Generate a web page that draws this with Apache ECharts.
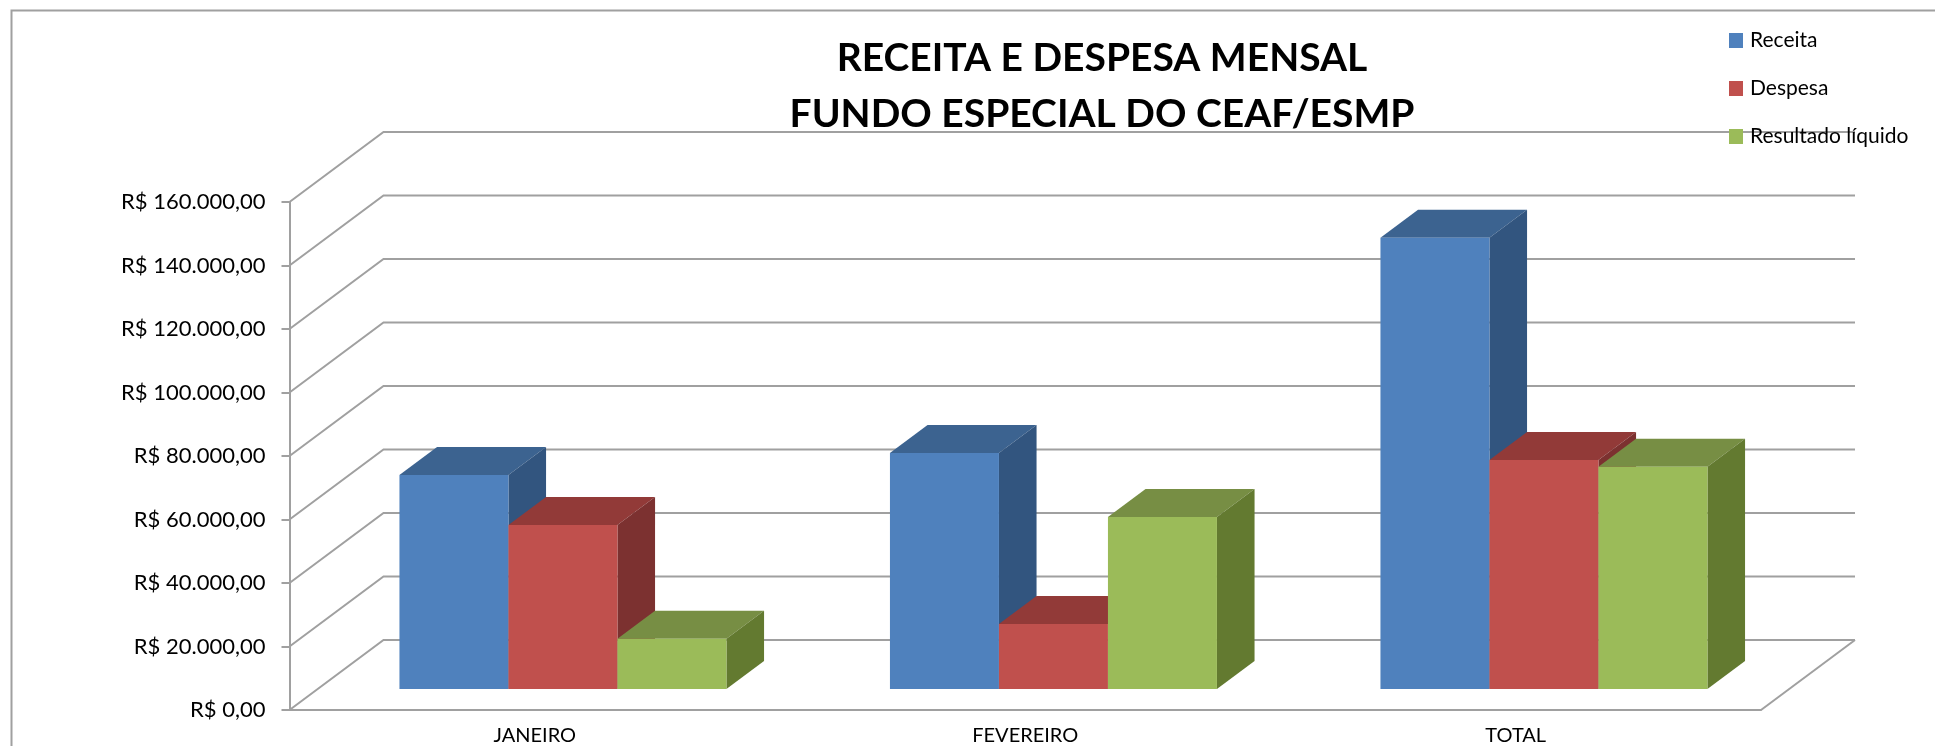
<!DOCTYPE html>
<html>

<head>
    <meta charset="utf-8" />
    <script src="https://cdn.jsdelivr.net/npm/echarts@6/dist/echarts.min.js"></script>
    <style>
        html, body { margin: 0; padding: 0; background: #fff; }
    </style>
</head>

<body>
    <div id="main" style="width: 1935px; height: 746px;"></div>
    <script type="text/javascript">
        var categories = ['JANEIRO', 'FEVEREIRO', 'TOTAL'];
        var receita = [67400, 74300, 142100];
        var despesa = [51650, 20500, 72100];
        var resultado = [15800, 54200, 70000];
        var yTicks = [0, 20000, 40000, 60000, 80000, 100000, 120000, 140000, 160000];
        var yLabels = ['R$ 0,00', 'R$ 20.000,00', 'R$ 40.000,00', 'R$ 60.000,00', 'R$ 80.000,00',
            'R$ 100.000,00', 'R$ 120.000,00', 'R$ 140.000,00', 'R$ 160.000,00'];

        var FONT = 'Lato';
        var GRAY = '#a0a0a0';
        // how far the floor runs back on screen
        var DEPTH_X = 94;
        var DEPTH_Y = 70;

        var myChart = echarts.init(document.getElementById('main'));

        // back wall lines, one per tick
        function renderWall(params, api) {
            var cs = params.coordSys;
            var y = api.coord([0, api.value(1)])[1];
            var left = cs.x;
            var right = cs.x + cs.width;
            var children = [{
                type: 'polyline',
                shape: { points: [[left, y], [left + DEPTH_X, y - DEPTH_Y], [right + DEPTH_X, y - DEPTH_Y]] },
                style: { stroke: GRAY, lineWidth: 2, fill: null }
            }];
            if (api.value(1) === 0) {
                children.push({
                    type: 'line',
                    shape: { x1: right, y1: y, x2: right + DEPTH_X, y2: y - DEPTH_Y },
                    style: { stroke: GRAY, lineWidth: 2 }
                });
            }
            return { type: 'group', children: children };
        }

        // one 3D box, seriesPos says where it sits in the cluster
        function boxRenderer(seriesPos, topColor, sideColor, frontColor) {
            return function (params, api) {
                var band = api.size([1, 0])[0];
                var w = band * 2 / 9;
                var center = api.coord([api.value(0), 0]);
                var top = api.coord([api.value(0), api.value(1)]);
                var fx = DEPTH_X * 0.3, fy = DEPTH_Y * 0.3;
                var bx = DEPTH_X * 0.4, by = DEPTH_Y * 0.4;
                var x0 = center[0] + fx + (seriesPos - 1.5) * w;
                var x1 = x0 + w;
                var yBase = center[1] - fy;
                var yTop = top[1] - fy;
                return {
                    type: 'group',
                    children: [{
                        type: 'polygon',
                        shape: { points: [[x0, yTop], [x1, yTop], [x1 + bx, yTop - by], [x0 + bx, yTop - by]] },
                        style: { fill: topColor }
                    }, {
                        type: 'polygon',
                        shape: { points: [[x1, yTop], [x1 + bx, yTop - by], [x1 + bx, yBase - by], [x1, yBase]] },
                        style: { fill: sideColor }
                    }, {
                        type: 'rect',
                        shape: { x: x0, y: yTop, width: w, height: yBase - yTop },
                        style: { fill: frontColor }
                    }]
                };
            };
        }

        function pairs(values) {
            return values.map(function (v, i) { return [i, v]; });
        }

        var option = {
            animation: false,
            backgroundColor: '#fff',
            title: {
                text: 'RECEITA E DESPESA MENSAL\nFUNDO ESPECIAL DO CEAF/ESMP',
                left: 1097,
                top: 25,
                textAlign: 'center',
                textStyle: { fontFamily: FONT, fontSize: 39, fontWeight: 'bold', color: '#000', lineHeight: 56 }
            },
            legend: {
                orient: 'vertical',
                left: 1724,
                top: 25,
                itemWidth: 14,
                itemHeight: 15,
                itemGap: 27,
                icon: 'rect',
                data: ['Receita', 'Despesa', 'Resultado líquido'],
                textStyle: { fontFamily: FONT, fontSize: 21, color: '#000', padding: [0, 0, 0, 2] }
            },
            grid: { left: 289.5, top: 202, width: 1471.5, height: 508 },
            xAxis: {
                type: 'category',
                data: categories,
                axisLine: { lineStyle: { color: GRAY, width: 2 } },
                axisTick: { length: 7, lineStyle: { color: GRAY, width: 2 } },
                axisLabel: { fontFamily: FONT, fontSize: 20, color: '#000', margin: 16 }
            },
            yAxis: {
                type: 'value',
                min: 0,
                max: 160000,
                interval: 20000,
                splitLine: { show: false },
                axisLine: { show: true, lineStyle: { color: GRAY, width: 2 } },
                axisTick: { show: true, length: 8, lineStyle: { color: GRAY, width: 2 } },
                axisLabel: {
                    fontFamily: FONT,
                    fontSize: 22,
                    color: '#000',
                    margin: 24,
                    formatter: function (value) {
                        return yLabels[yTicks.indexOf(value)];
                    }
                }
            },
            graphic: [{
                type: 'rect',
                silent: true,
                z: -10,
                shape: { x: 11.5, y: 10.5, width: 2000, height: 800 },
                style: { fill: null, stroke: '#a0a0a0', lineWidth: 2 }
            }],
            series: [{
                name: 'parede',
                type: 'custom',
                renderItem: renderWall,
                data: yTicks.map(function (v) { return [0, v]; }),
                silent: true,
                z: 1
            }, {
                name: 'Receita',
                type: 'custom',
                renderItem: boxRenderer(0, '#3c6390', '#32557f', '#4f81bd'),
                itemStyle: { color: '#4f81bd' },
                data: pairs(receita),
                z: 2
            }, {
                name: 'Despesa',
                type: 'custom',
                renderItem: boxRenderer(1, '#923a38', '#7c3130', '#c0504d'),
                itemStyle: { color: '#c0504d' },
                data: pairs(despesa),
                z: 3
            }, {
                name: 'Resultado líquido',
                type: 'custom',
                renderItem: boxRenderer(2, '#778e44', '#637a30', '#9bbb59'),
                itemStyle: { color: '#9bbb59' },
                data: pairs(resultado),
                z: 4
            }]
        };

        myChart.setOption(option);
    </script>
</body>

</html>
